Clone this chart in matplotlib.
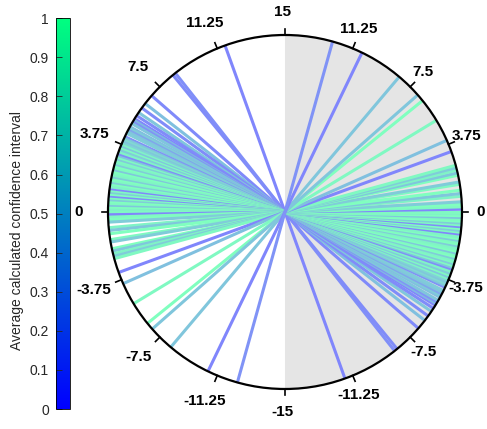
import numpy as np
import matplotlib
matplotlib.use('Agg')
import matplotlib.pyplot as plt
from matplotlib.patches import Wedge, Circle
from matplotlib.cm import ScalarMappable
from matplotlib.colors import Normalize

plt.rcParams['font.family'] = ['Liberation Sans', 'DejaVu Sans']

# orientation of each line (left-hand value) and its average confidence interval
angulos = [11.7, 8.62, 8.45, 6.85, 6.3, 6.0, 5.7, 5.5, 5.3, 5.2,
           5.1, 5.0, 4.8, 4.7, 4.6, 4.5, 4.4, 4.2, 4.1, 4.0,
           3.9, 3.8, 3.7, 3.6, 3.5, 3.4, 3.28, 3.15, 3.05, 2.95,
           2.85, 2.75, 2.65, 2.55, 2.45, 2.35, 2.25, 2.15, 2.05, 1.95,
           1.85, 1.75, 1.65, 1.55, 1.45, 1.35, 1.2, 1.1, 1.0, 0.9,
           0.8, 0.7, 0.6, 0.5, 0.4, 0.3, 0.2, 0.1, 0.0, -0.15,
           -0.28, -0.42, -0.55, -0.85, -1.0, -1.18, -1.5, -1.63, -2.0, -2.13,
           -2.28, -2.42, -2.55, -3.33, -3.98, -5.2, -6.5, -6.9, -8.3, -10.7,
           -12.4]
confianza = [0.05, 0.12, 0.1, 0.08, 0.5, 0.1, 0.55, 0.1, 0.05, 0.45,
             0.15, 0.55, 0.5, 0.6, 0.3, 0.55, 0.6, 0.15, 0.55, 0.7,
             0.55, 0.65, 0.9, 0.55, 0.95, 0.6, 0.9, 0.1, 0.55, 0.95,
             0.6, 0.95, 0.9, 0.6, 1.0, 0.95, 0.55, 1.0, 0.95, 0.9,
             0.6, 1.0, 0.95, 0.6, 1.0, 0.9, 0.05, 0.95, 0.6, 1.0,
             0.1, 0.95, 0.6, 1.0, 0.95, 0.55, 1.0, 0.9, 0.95, 0.05,
             0.95, 1.0, 0.6, 0.9, 0.55, 1.0, 0.95, 0.6, 1.0, 0.55,
             0.9, 0.6, 0.95, 0.05, 0.5, 0.95, 1.0, 0.55, 0.55, 0.05,
             0.15]

ticks_vals = [15, 11.25, 7.5, 3.75, 0, -3.75, -7.5, -11.25, -15]
cb_ticks = [0, 0.1, 0.2, 0.3, 0.4, 0.5, 0.6, 0.7, 0.8, 0.9, 1]
cb_labels = ['0', '0.1', '0.2', '0.3', '0.4', '0.5', '0.6', '0.7', '0.8', '0.9', '1']

fig = plt.figure(figsize=(4.87, 4.29), dpi=100)
ax = fig.add_axes([0.1309, -0.0099, 0.9086, 1.0315])
ax.set_xlim(-1.25, 1.25)
ax.set_ylim(-1.25, 1.25)
ax.set_aspect('equal')
ax.axis('off')

# right half shaded
ax.add_patch(Wedge((0, 0), 1, -90, 90, facecolor='#e5e5e5', edgecolor='none', zorder=0))

cmap = plt.get_cmap('winter')
for a, c in zip(angulos, confianza):
    t = np.deg2rad(180 - 6 * a)
    # half-transparent look, but flat so crossings don't darken
    col = 0.5 * np.array(cmap(c)[:3]) + 0.5
    ax.plot([np.cos(t), -np.cos(t)], [np.sin(t), -np.sin(t)],
            color=col, lw=2.2, solid_capstyle='butt', zorder=2)

ax.add_patch(Circle((0, 0), 1, fill=False, edgecolor='black', lw=1.6, zorder=5))

# ticks and labels on both halves
for v in ticks_vals:
    for lado in (1, -1):
        if lado == -1 and abs(v) == 15:
            continue
        if lado == 1:
            t = np.deg2rad(6 * v)
            r = 1.12
        else:
            t = np.deg2rad(180 - 6 * v)
            r = 1.155
        if abs(v) == 15:
            r = 1.13
        ct, st = np.cos(t), np.sin(t)
        ax.plot([ct, 1.035 * ct], [st, 1.035 * st], color='black', lw=1.2, zorder=5)
        ax.text(r * ct - 0.012, r * st, f'{v:g}', ha='center', va='center',
                fontsize=11, fontweight='bold', color='black')

# colorbar
cax = fig.add_axes([0.115, 0.0466, 0.0287, 0.911])
sm = ScalarMappable(norm=Normalize(0, 1), cmap=cmap)
cb = fig.colorbar(sm, cax=cax)
cb.set_ticks(cb_ticks)
cb.set_ticklabels(cb_labels)
cax.yaxis.set_ticks_position('left')
cax.tick_params(direction='in', length=4, width=0.6, labelsize=10, colors='#262626', pad=5)
cb.outline.set_linewidth(0.6)
fig.text(17 / 487, 1 - 230 / 429, 'Average calculated confidence interval', rotation=90,
         ha='center', va='center', fontsize=10, color='#262626')

fig.savefig('out.png', dpi=100)
